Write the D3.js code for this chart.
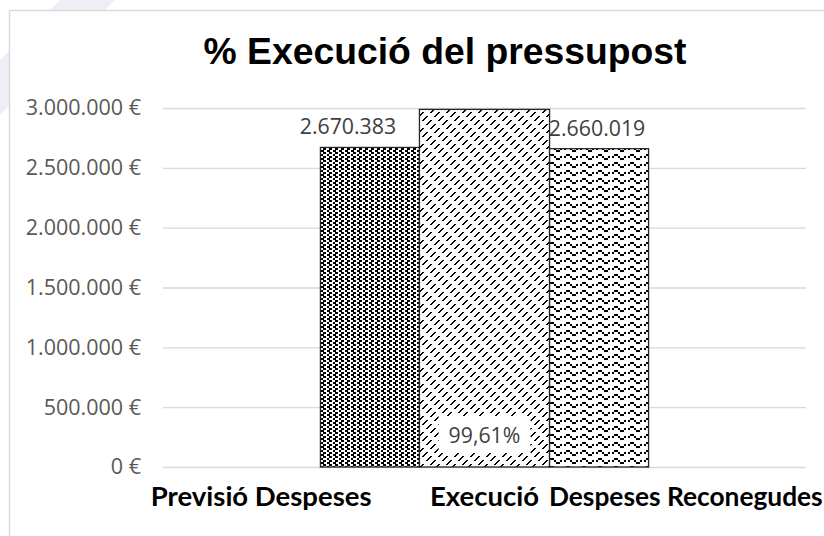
<!DOCTYPE html>
<html>
<head>
<meta charset="utf-8">
<script src="https://cdn.jsdelivr.net/npm/d3@7"></script>
<style>
  html, body { margin: 0; padding: 0; background: #ffffff; }
  svg { display: block; }
</style>
</head>
<body>
<svg id="chart" width="824" height="536"></svg>
<script>
// Budget execution: forecast spending vs. recognised spending, plus execution rate
const title = "% Execució del pressupost";
const categories = ["Previsió Despeses", "Execució", "Despeses Reconegudes"];
const amountSeries = ["Previsió Despeses", "Despeses Reconegudes"];
const amountValues = [2670383, 2660019];
const executionRate = 0.9961;
const yTickValues = [0, 500000, 1000000, 1500000, 2000000, 2500000, 3000000];

const locale = d3.formatLocale({
  decimal: ",", thousands: ".", grouping: [3], currency: ["", " €"], percent: "%"
});
const fmtTick = v => locale.format(",.0f")(v) + " €";
const fmtAmount = locale.format(",.0f");
const fmtRate = locale.format(".2%");

const svg = d3.select("#chart");
const plot = { left: 163, right: 806, top: 108, bottom: 467 };

// Pixel hatch patterns built from small bitmaps
const defs = svg.append("defs");
function bitmapPattern(id, isOn, colWidths, rowHeights) {
  const xs = [0], ys = [0];
  colWidths.forEach(w => xs.push(xs[xs.length - 1] + w));
  rowHeights.forEach(h => ys.push(ys[ys.length - 1] + h));
  const nCols = colWidths.length, nRows = rowHeights.length;
  const pw = xs[nCols], ph = ys[nRows];
  const p = defs.append("pattern").attr("id", id)
    .attr("patternUnits", "userSpaceOnUse")
    .attr("width", pw).attr("height", ph);
  p.append("rect").attr("width", pw).attr("height", ph).attr("fill", "#fff");
  const cells = [];
  for (let r = 0; r < nRows; r++)
    for (let c = 0; c < nCols; c++)
      if (isOn(c, r)) cells.push({ x: xs[c], y: ys[r], w: colWidths[c], h: rowHeights[r] });
  p.selectAll("rect.px").data(cells).join("rect").attr("class", "px")
    .attr("x", d => d.x).attr("y", d => d.y)
    .attr("width", d => d.w).attr("height", d => d.h)
    .attr("fill", "#000").attr("shape-rendering", "crispEdges");
}

// dotted vertical columns
const dotCols = ["A", ".", "B", "X", "A", ".", "B", "X"];
bitmapPattern("patDots",
  (c, r) => dotCols[c] === "X" ? r !== 1
          : dotCols[c] === "A" ? r % 2 === 0
          : dotCols[c] === "B" ? r % 2 === 1 : false,
  [2, 1, 2, 1, 2, 1, 2, 1], [2, 2, 2, 2]);

// dashed upward diagonal (1px cells, 2px-thick strokes, staggered breaks)
bitmapPattern("patDiag",
  (c, r) => {
    const s = (c + r) % 16;
    if (s % 8 < 6) return false;
    const lane = Math.floor(s / 8);
    return ((r + 4 * lane) % 8) < 5;
  },
  d3.range(16).map(() => 1), d3.range(16).map(() => 1));

// wave
const waveRows = ["........", "...XX...", "X.X..X..", "......XX"];
bitmapPattern("patWave",
  (c, r) => waveRows[r][c] === "X",
  d3.range(8).map(() => 2), d3.range(4).map(() => 2));

// faint background sweep outside the chart frame
svg.append("path")
  .attr("d", "M60,0 L115,0 L0,115 L0,60 Z")
  .attr("fill", "#eeeef7");

// chart frame
svg.append("rect")
  .attr("x", 9.5).attr("y", 10.5).attr("width", 840).attr("height", 540)
  .attr("fill", "#fff").attr("stroke", "#d9d9d9").attr("stroke-width", 1.5);

// title
svg.append("text")
  .attr("x", 445).attr("y", 64)
  .attr("text-anchor", "middle")
  .attr("font-family", "'Liberation Sans', Arial, sans-serif")
  .attr("font-weight", "bold").attr("font-size", 37.3)
  .attr("fill", "#000")
  .text(title);

// scales
const x = d3.scaleBand().domain(categories).range([plot.left, plot.right]);
const y = d3.scaleLinear().domain([0, 3000000]).range([plot.bottom, plot.top]);
const yRate = d3.scaleLinear().domain([0, 1]).range([plot.bottom, plot.top]);

// gridlines + y labels
const yAxis = d3.axisLeft(y).tickValues(yTickValues).tickFormat(fmtTick)
  .tickSize(-(plot.right - plot.left)).tickPadding(22);
const gy = svg.append("g").attr("transform", `translate(${plot.left},0)`).call(yAxis);
gy.select(".domain").remove();
gy.selectAll(".tick line").attr("stroke", "#d9d9d9").attr("stroke-width", 1.3);
gy.selectAll(".tick text")
  .attr("font-family", "'Open Sans', sans-serif").attr("font-size", 21.5)
  .attr("fill", "#595959");

// bar layout around the middle category
const cx = x(categories[1]) + x.bandwidth() / 2;
const sideW = x.bandwidth() * 0.462;
const midW = x.bandwidth() * 0.607;

const bars = [
  { name: amountSeries[0], left: cx - midW / 2 - sideW, width: sideW, top: y(amountValues[0]), fill: "url(#patDots)" },
  { name: "Execució", left: cx - midW / 2, width: midW, top: yRate(executionRate), fill: "url(#patDiag)" },
  { name: amountSeries[1], left: cx + midW / 2, width: sideW, top: y(amountValues[1]), fill: "url(#patWave)" }
];

svg.append("g").selectAll("rect").data(bars).join("rect")
  .attr("x", d => d.left).attr("y", d => d.top)
  .attr("width", d => d.width).attr("height", d => plot.bottom - d.top)
  .attr("fill", d => d.fill)
  .attr("stroke", "#262626").attr("stroke-width", 1.3);

// amount labels above side bars
const amountLabels = [
  { text: fmtAmount(amountValues[0]), x: bars[0].left + bars[0].width / 2 - 22, y: y(amountValues[0]) - 13 },
  { text: fmtAmount(amountValues[1]), x: bars[2].left + bars[2].width / 2 - 2, y: y(amountValues[1]) - 13 }
];
svg.append("g").selectAll("text").data(amountLabels).join("text")
  .attr("x", d => d.x).attr("y", d => d.y)
  .attr("text-anchor", "middle")
  .attr("font-family", "'Open Sans', sans-serif").attr("font-size", 21.3)
  .attr("fill", "#404040")
  .text(d => d.text);

// execution rate label inside the middle bar
const rateG = svg.append("g");
const rateText = rateG.append("text")
  .attr("x", cx).attr("y", plot.bottom - 24)
  .attr("text-anchor", "middle")
  .attr("font-family", "'Open Sans', sans-serif").attr("font-size", 21.3)
  .attr("fill", "#404040")
  .text(fmtRate(executionRate));
const bb = rateText.node().getBBox();
rateG.insert("rect", "text")
  .attr("x", bb.x - 10).attr("y", bb.y - 4)
  .attr("width", bb.width + 20).attr("height", bb.height + 8)
  .attr("fill", "#fff");

// category labels (the last one is nudged and tightened to stay inside the frame)
const catShift = [-9, 0, -13];
const catSize = [27.5, 27.5, 26.3];
svg.append("g").selectAll("text").data(categories).join("text")
  .attr("x", (d, i) => x(d) + x.bandwidth() / 2 + catShift[i])
  .attr("y", 506)
  .attr("text-anchor", "middle")
  .attr("font-family", "Lato, sans-serif").attr("font-weight", "bold")
  .attr("font-size", (d, i) => catSize[i])
  .attr("fill", "#000")
  .text(d => d);
</script>
</body>
</html>
